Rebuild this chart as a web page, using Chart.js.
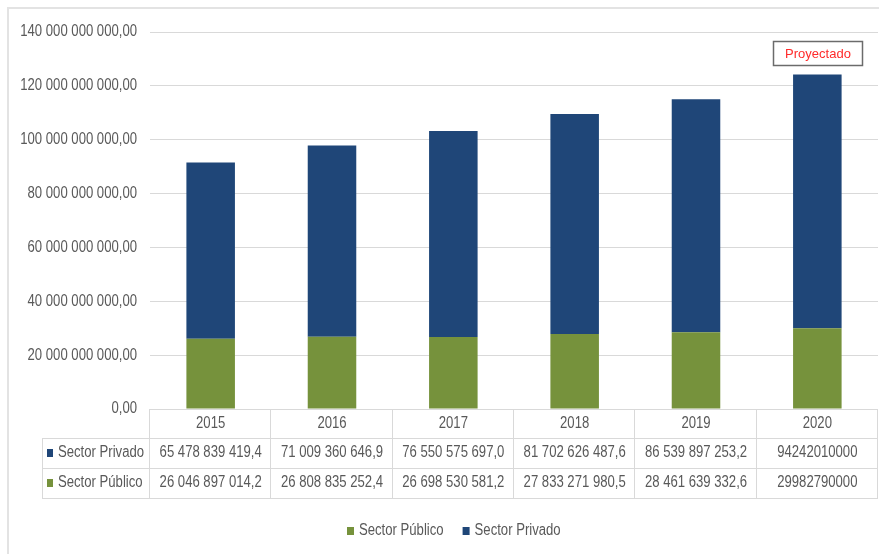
<!DOCTYPE html>
<html>
<head>
<meta charset="utf-8">
<script src="https://cdn.jsdelivr.net/npm/chart.js@4.4.1/dist/chart.umd.min.js"></script>
<style>
  html, body { margin: 0; padding: 0; background: #fff; }
  #wrap { width: 879px; height: 554px; position: relative; }
</style>
</head>
<body>
<div id="wrap"><canvas id="grafico"></canvas></div>
<script>
// datos
let anios = ['2015', '2016', '2017', '2018', '2019', '2020'];
let sector_publico = [26046897014.2, 26808835252.4, 26698530581.2, 27833271980.5, 28461639332.6, 29982790000];
let sector_privado = [65478839419.4, 71009360646.9, 76550575697.0, 81702626487.6, 86539897253.2, 94242010000];
let proyectado = [false, false, false, false, false, true];
let y_ticks = [0, 20e9, 40e9, 60e9, 80e9, 100e9, 120e9, 140e9];

const fuente = "'Liberation Sans', Arial, sans-serif";
const gris_texto = '#595959';
const gris_linea = '#d9d9d9';
const azul = '#1f4678';
const verde = '#76923c';

// numero con espacios de miles y coma decimal
function formato(v, dec) {
  let partes = v.toFixed(dec).split('.');
  let entero = partes[0].replace(/\B(?=(\d{3})+(?!\d))/g, ' ');
  return dec > 0 ? entero + ',' + partes[1] : entero;
}

function valor_tabla(v, i) {
  if (proyectado[i]) return String(Math.round(v));
  return formato(v, 1);
}

// texto estrecho (no hay fuente narrow instalada)
const estrecho = 0.82;
function texto(ctx, str, x, y, align) {
  ctx.save();
  ctx.translate(x, y);
  ctx.scale(estrecho, 1);
  ctx.textAlign = align;
  ctx.fillText(str, 0, 0);
  ctx.restore();
}

// tabla de datos + leyenda + cuadro "Proyectado"
const tabla_plugin = {
  id: 'tabla',
  afterDraw(chart) {
    const ctx = chart.ctx;
    const area = chart.chartArea;
    const n = anios.length;
    const ancho = (area.right - area.left) / n;
    const y0 = area.bottom;
    const filas = [y0, y0 + 29, y0 + 59, y0 + 89];
    const x_etiqueta = 42;

    ctx.save();
    // marco exterior
    ctx.strokeStyle = '#e3e3e3';
    ctx.lineWidth = 2;
    ctx.strokeRect(8, 8, 900, 600);

    // etiquetas eje y
    const ys = chart.scales.y;
    ctx.fillStyle = gris_texto;
    ctx.font = '16px ' + fuente;
    ctx.textBaseline = 'middle';
    ys.ticks.forEach(function (t) {
      texto(ctx, formato(t.value, 2), area.left - 13, ys.getPixelForValue(t.value), 'right');
    });

    ctx.strokeStyle = gris_linea;
    ctx.lineWidth = 1;
    ctx.beginPath();
    ctx.moveTo(area.left, filas[0] + 0.5);
    ctx.lineTo(area.right, filas[0] + 0.5);
    for (let k = 1; k < 4; k++) {
      ctx.moveTo(x_etiqueta, filas[k] + 0.5);
      ctx.lineTo(area.right, filas[k] + 0.5);
    }
    ctx.moveTo(x_etiqueta + 0.5, filas[1]);
    ctx.lineTo(x_etiqueta + 0.5, filas[3]);
    for (let i = 0; i <= n; i++) {
      let xb = Math.round(area.left + i * ancho) - 0.5;
      ctx.moveTo(xb, filas[0]);
      ctx.lineTo(xb, filas[3]);
    }
    ctx.stroke();

    ctx.fillStyle = gris_texto;
    const xs = chart.scales.x;
    for (let i = 0; i < n; i++) {
      let cx = xs.getPixelForValue(i);
      texto(ctx, anios[i], cx, filas[0] + 15, 'center');
      texto(ctx, valor_tabla(sector_privado[i], i), cx, filas[1] + 15, 'center');
      texto(ctx, valor_tabla(sector_publico[i], i), cx, filas[2] + 15, 'center');
    }

    // etiquetas de fila
    const filas_series = [[chart.data.datasets[1], filas[1]], [chart.data.datasets[0], filas[2]]];
    filas_series.forEach(function (f) {
      ctx.fillStyle = f[0].backgroundColor;
      ctx.fillRect(47, f[1] + 11, 6, 8);
      ctx.fillStyle = gris_texto;
      texto(ctx, f[0].label, 58, f[1] + 15, 'left');
    });

    // leyenda
    let lx = 347;
    const ly = 531;
    chart.data.datasets.forEach(function (ds) {
      ctx.fillStyle = ds.backgroundColor;
      ctx.fillRect(lx, ly - 4, 7, 8);
      ctx.fillStyle = gris_texto;
      texto(ctx, ds.label, lx + 12, ly, 'left');
      lx += ctx.measureText(ds.label).width * estrecho + 31;
    });

    // cuadro proyectado sobre la barra del ultimo anio
    const meta = chart.getDatasetMeta(1);
    const ip = proyectado.indexOf(true);
    if (ip >= 0) {
      const barra = meta.data[ip];
      const bw = 89, bh = 24;
      const bx = Math.round(barra.x - bw / 2) + 0.5;
      const by = Math.round(barra.y - 9 - bh) + 0.5;
      ctx.fillStyle = '#fff';
      ctx.fillRect(bx, by, bw, bh);
      ctx.strokeStyle = '#6b6b6b';
      ctx.lineWidth = 1.5;
      ctx.strokeRect(bx, by, bw, bh);
      ctx.fillStyle = '#ff2a2a';
      ctx.font = '13px ' + fuente;
      ctx.textAlign = 'center';
      ctx.fillText('Proyectado', bx + bw / 2, by + bh / 2 + 1);
    }
    ctx.restore();
  }
};

const grafico = document.getElementById('grafico');

new Chart(grafico, {
  type: 'bar',
  data: {
    labels: anios,
    datasets: [{
      label: 'Sector Público',
      data: sector_publico,
      backgroundColor: verde,
      barPercentage: 0.4,
      categoryPercentage: 1
    }, {
      label: 'Sector Privado',
      data: sector_privado,
      backgroundColor: azul,
      barPercentage: 0.4,
      categoryPercentage: 1
    }]
  },
  options: {
    responsive: true,
    maintainAspectRatio: false,
    animation: false,
    layout: {
      padding: { top: 32, right: 1, bottom: 145, left: 0 }
    },
    scales: {
      x: {
        stacked: true,
        display: false
      },
      y: {
        stacked: true,
        min: 0,
        max: 140e9,
        afterFit: function (s) { s.width = 150; },
        afterBuildTicks: function (s) {
          s.ticks = y_ticks.map(function (v) { return { value: v }; });
        },
        border: { display: false },
        grid: { color: gris_linea, drawTicks: false, lineWidth: 1 },
        ticks: { display: false }
      }
    },
    plugins: {
      legend: { display: false },
      tooltip: { enabled: true }
    }
  },
  plugins: [tabla_plugin]
});
</script>
</body>
</html>
